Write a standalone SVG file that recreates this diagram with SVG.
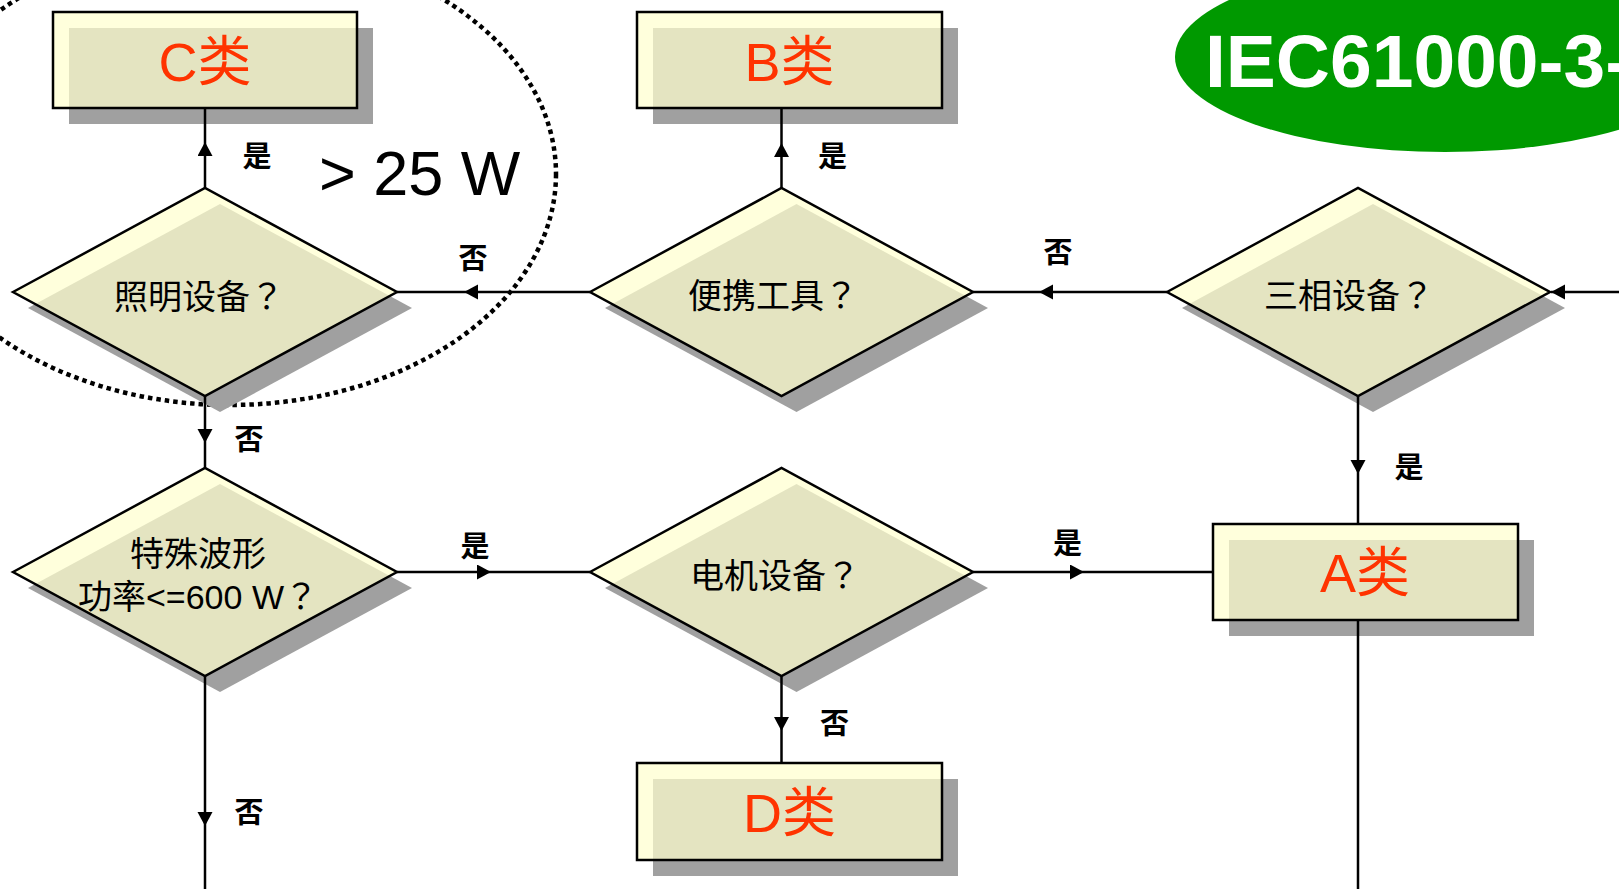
<svg xmlns="http://www.w3.org/2000/svg" width="1619" height="889" viewBox="0 0 1619 889">
<defs>
<style>
.shadow{fill:#A0A0A0}
.shape{fill:rgb(255,255,206);fill-opacity:0.716;stroke:#000;stroke-width:2.5;stroke-linejoin:miter}
.cls{fill:#FF3300;font-family:"Liberation Sans","Noto Sans CJK SC",sans-serif;font-size:54px;text-anchor:middle}
.q{fill:#000;font-family:"Liberation Sans","Noto Sans CJK SC",sans-serif;font-size:34px}
.fq{font-family:"Noto Sans CJK TC","Noto Sans CJK JP",sans-serif}
.lbl{font-family:"Noto Sans CJK SC",sans-serif;font-weight:bold;font-size:29px;fill:#000;text-anchor:middle}
.conn{fill:none;stroke:#000;stroke-width:2.5;marker-mid:url(#arr)}
.connend{fill:none;stroke:#000;stroke-width:2.5;marker-end:url(#arr)}
.plain{fill:none;stroke:#000;stroke-width:2.5}
</style>
<marker id="arr" markerUnits="userSpaceOnUse" markerWidth="16" markerHeight="16" refX="14" refY="7.5" orient="auto" viewBox="0 0 16 16">
<path d="M0,0 L14,7.5 L0,15 z" fill="#000"/>
</marker>
</defs>
<rect width="1619" height="889" fill="#fff"/>

<g id="title">
<ellipse cx="1445" cy="57" rx="270" ry="95" fill="#009900"/>
<text x="1205" y="87" font-family="Liberation Sans, Arial, sans-serif" font-weight="bold" font-size="75" fill="#fff">IEC61000-3-</text>
</g>

<g id="lighting-scope">
<ellipse cx="230" cy="174" rx="326" ry="231" fill="none" stroke="#000" stroke-width="4.5" stroke-dasharray="4.5 4"/>
<text x="319" y="195" font-family="Liberation Sans, Arial, sans-serif" font-size="63" fill="#000">&gt; 25 W</text>
</g>

<g id="node-C">
<rect class="shadow" x="69" y="28" width="304" height="96"/>
<rect class="shape" x="53" y="12" width="304" height="96"/>
<text class="cls" x="205" y="81">C类</text>
</g>

<g id="node-B">
<rect class="shadow" x="653" y="28" width="305" height="96"/>
<rect class="shape" x="637" y="12" width="305" height="96"/>
<text class="cls" x="789.5" y="81">B类</text>
</g>

<g id="node-D">
<rect class="shadow" x="653" y="779" width="305" height="97"/>
<rect class="shape" x="637" y="763" width="305" height="97"/>
<text class="cls" x="789.5" y="832">D类</text>
</g>

<g id="node-A">
<rect class="shadow" x="1229" y="540" width="305" height="96"/>
<rect class="shape" x="1213" y="524" width="305" height="96"/>
<text class="cls" x="1365" y="592">A类</text>
</g>

<g id="node-lighting">
<polygon class="shadow" points="28,308 220,204 412,308 220,412"/>
<polygon class="shape" points="13,292 205,188 397,292 205,396"/>
<text class="q" x="114" y="309">照明设备<tspan class="fq">？</tspan></text>
</g>

<g id="node-portable">
<polygon class="shadow" points="605,308 796.5,204 988,308 796.5,412"/>
<polygon class="shape" points="590,292 781.5,188 973,292 781.5,396"/>
<text class="q" x="688" y="308">便携工具<tspan class="fq">？</tspan></text>
</g>

<g id="node-threephase">
<polygon class="shadow" points="1182,308 1373,204 1565,308 1373,412"/>
<polygon class="shape" points="1167,292 1358,188 1550,292 1358,396"/>
<text class="q" x="1264" y="308">三相设备<tspan class="fq">？</tspan></text>
</g>

<g id="node-waveform">
<polygon class="shadow" points="28,588 220,484 412,588 220,692"/>
<polygon class="shape" points="13,572 205,468 397,572 205,676"/>
<text class="q" x="130" y="566">特殊波形</text>
<text class="q" x="78" y="609">功率&lt;=600 W<tspan class="fq">？</tspan></text>
</g>

<g id="node-motor">
<polygon class="shadow" points="605,588 796.5,484 988,588 796.5,692"/>
<polygon class="shape" points="590,572 781.5,468 973,572 781.5,676"/>
<text class="q" x="690" y="588">电机设备<tspan class="fq">？</tspan></text>
</g>

<g id="connectors">
<path class="conn" d="M205,188 L205,142 L205,108"/>
<path class="conn" d="M781.5,188 L781.5,143 L781.5,108"/>
<path class="conn" d="M590,292 L464,292 L397,292"/>
<path class="conn" d="M1167,292 L1039,292 L973,292"/>
<path class="connend" d="M1619,292 L1551,292"/>
<path class="conn" d="M205,396 L205,443 L205,468"/>
<path class="conn" d="M397,572 L491,572 L590,572"/>
<path class="conn" d="M205,676 L205,826 L205,889"/>
<path class="conn" d="M973,572 L1084,572 L1213,572"/>
<path class="conn" d="M781.5,676 L781.5,731 L781.5,763"/>
<path class="conn" d="M1358,396 L1358,474 L1358,524"/>
<path class="plain" d="M1358,620 L1358,889"/>
<text class="lbl" x="257" y="167">是</text>
<text class="lbl" x="832.5" y="167">是</text>
<text class="lbl" x="473" y="268.5">否</text>
<text class="lbl" x="1058" y="263">否</text>
<text class="lbl" x="249" y="450">否</text>
<text class="lbl" x="475" y="556.5">是</text>
<text class="lbl" x="249" y="823">否</text>
<text class="lbl" x="1067.5" y="554">是</text>
<text class="lbl" x="834.5" y="733.5">否</text>
<text class="lbl" x="1409" y="478">是</text>
</g>
</svg>
